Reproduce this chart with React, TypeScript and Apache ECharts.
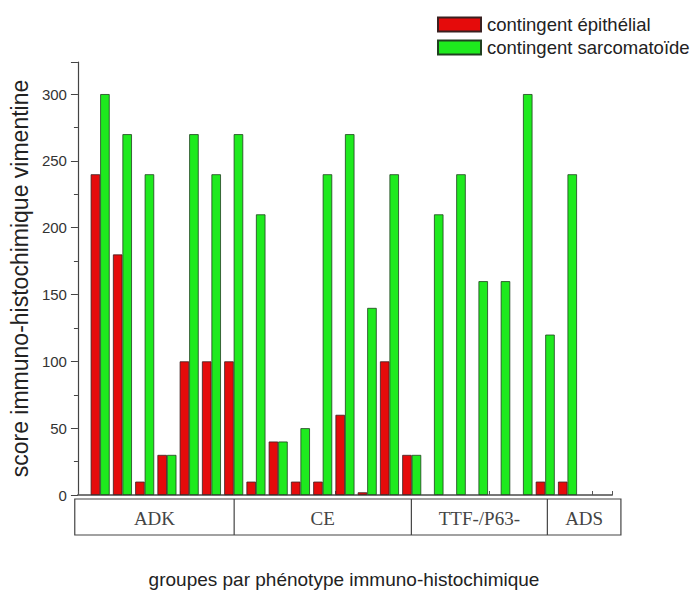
import React, { useEffect, useRef } from "react";
import * as echarts from "echarts";

// 22 cases; category slots 0 and 23-24 are empty padding on the axis
const cases = Array.from({ length: 22 }, (_, i) => `cas ${i + 1}`);
const epithelial = [240, 180, 10, 30, 100, 100, 100, 10, 40, 10, 10, 60, 2, 100, 30, 0, 0, 0, 0, 0, 10, 10];
const sarcomatoid = [300, 270, 240, 30, 270, 240, 270, 210, 40, 50, 240, 270, 140, 240, 30, 210, 240, 160, 160, 300, 120, 240];
const groupNames = ["ADK", "CE", "TTF-/P63-", "ADS"];
// group boundaries, in category-slot units
const groupBounds = [-0.1, 7.05, 15.0, 21.1, 24.4];
const yTicks = [0, 50, 100, 150, 200, 250, 300];

const GRID_LEFT = 77;
const GRID_TOP = 62;
const GRID_RIGHT = 80;
const GRID_BOTTOM = 95;
const W = 692;
const H = 590;
const SANS = '"Liberation Sans", Arial, sans-serif';

export default function App() {
  const ref = useRef<HTMLDivElement>(null);
  useEffect(() => {
    if (!ref.current) return;
    const chart = echarts.init(ref.current, undefined, { renderer: "svg" });
    const cats = ["", ...cases, "", ""];
    const pad = (arr: number[]) => ["-", ...arr.map((v) => (v === 0 ? "-" : v)), "-", "-"];
    const slots = cats.length - 1;
    const gridW = W - GRID_LEFT - GRID_RIGHT;
    const step = gridW / slots;
    const xPix = (v: number) => GRID_LEFT + v * step;
    const tableTop = H - GRID_BOTTOM + 4;
    const tableBottom = tableTop + 36;

    const tableEls: any[] = [];
    tableEls.push({
      type: "rect",
      shape: { x: xPix(groupBounds[0]), y: tableTop, width: xPix(groupBounds[groupBounds.length - 1]) - xPix(groupBounds[0]), height: tableBottom - tableTop },
      style: { fill: "#fff", stroke: "#444", lineWidth: 1.2 },
    });
    for (let i = 1; i < groupBounds.length - 1; i++) {
      tableEls.push({
        type: "line",
        shape: { x1: xPix(groupBounds[i]), y1: tableTop, x2: xPix(groupBounds[i]), y2: tableBottom },
        style: { stroke: "#444", lineWidth: 1.2 },
      });
    }
    groupNames.forEach((g, i) => {
      tableEls.push({
        type: "text",
        x: (xPix(groupBounds[i]) + xPix(groupBounds[i + 1])) / 2,
        y: (tableTop + tableBottom) / 2 + 1,
        style: {
          text: g,
          fill: "#444",
          font: '19px "Liberation Serif", serif',
          align: "center",
          verticalAlign: "middle",
        },
      });
    });
    tableEls.push({
      type: "text",
      x: 344,
      y: 579,
      style: {
        text: "groupes par phénotype immuno-histochimique",
        fill: "#222",
        font: `19px ${SANS}`,
        align: "center",
        verticalAlign: "middle",
      },
    });

    chart.setOption({
      animation: false,
      backgroundColor: "#fff",
      legend: {
        orient: "vertical",
        left: 437,
        top: 15,
        padding: 0,
        itemWidth: 43,
        itemHeight: 14,
        itemGap: 4,
        icon: "rect",
        textStyle: { fontSize: 18.5, color: "#222", fontFamily: SANS, padding: [0, 0, 0, 1] },
        data: ["contingent épithélial", "contingent sarcomatoïde"],
      },
      grid: { left: GRID_LEFT, top: GRID_TOP, right: GRID_RIGHT, bottom: GRID_BOTTOM, containLabel: false },
      xAxis: [
        {
          type: "category",
          data: cats,
          boundaryGap: false,
          axisLine: { show: false },
          axisTick: { show: false },
          axisLabel: { show: false },
          splitLine: { show: false },
        },
        {
          type: "value",
          min: 0,
          max: 10.39,
          interval: 1,
          position: "bottom",
          axisLine: { show: true, lineStyle: { color: "#777", width: 2 } },
          axisTick: { show: true, inside: true, length: 4, lineStyle: { color: "#555" } },
          axisLabel: { show: false },
          splitLine: { show: false },
        },
      ],
      yAxis: {
        type: "value",
        min: 0,
        max: 324,
        interval: 50,
        name: "score immuno-histochimique vimentine",
        nameLocation: "middle",
        nameGap: 46,
        nameTextStyle: { fontSize: 23, color: "#222", fontFamily: SANS },
        axisLine: { show: true, lineStyle: { color: "#444", width: 1.2 } },
        axisTick: { show: true, length: 7, lineStyle: { color: "#444" } },
        minorTick: { show: true, splitNumber: 2, length: 4, lineStyle: { color: "#444" } },
        axisLabel: {
          fontSize: 15,
          color: "#333",
          margin: 11,
          fontFamily: SANS,
          formatter: (v: number) => (yTicks.includes(v) ? String(v) : ""),
        },
        splitLine: { show: false },
      },
      series: [
        {
          name: "contingent épithélial",
          type: "bar",
          xAxisIndex: 0,
          data: pad(epithelial),
          barWidth: 9.5,
          barGap: "0%",
          itemStyle: { color: "#e50b0b", borderColor: "#3a2020", borderWidth: 0.8 },
        },
        {
          name: "contingent sarcomatoïde",
          type: "bar",
          xAxisIndex: 0,
          data: pad(sarcomatoid),
          barWidth: 9.5,
          barGap: "0%",
          itemStyle: { color: "#1eea1e", borderColor: "#204020", borderWidth: 0.8 },
        },
      ],
      graphic: tableEls,
    });
    return () => chart.dispose();
  }, []);
  return <div ref={ref} style={{ width: W, height: H, position: "absolute", left: 0, top: 0 }} />;
}
